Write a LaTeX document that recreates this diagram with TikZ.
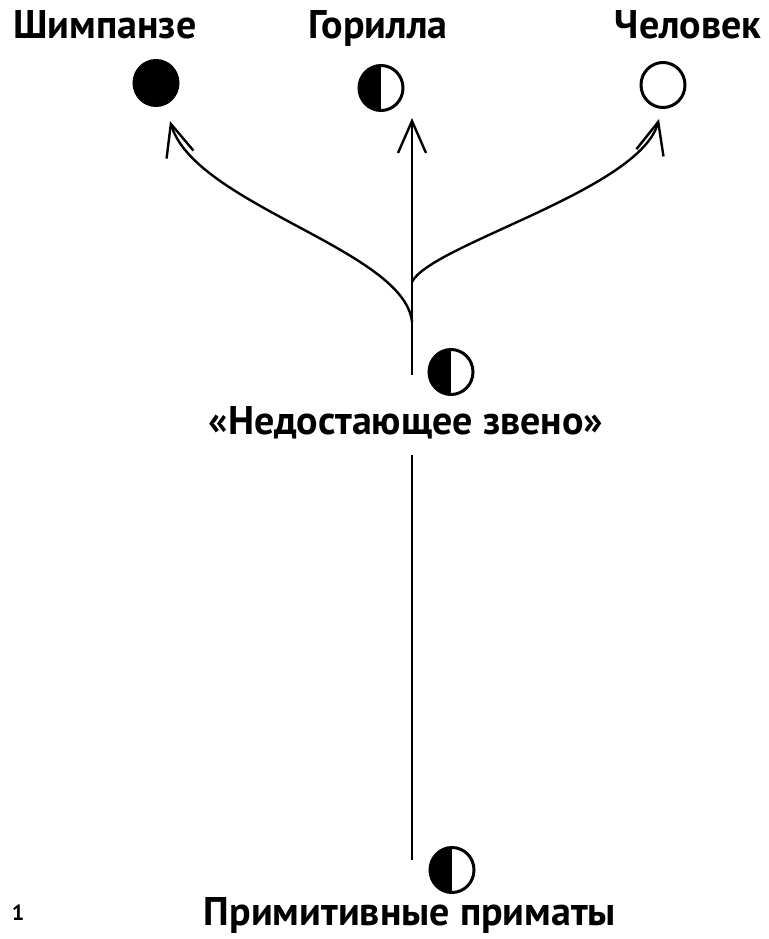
\documentclass[tikz,border=0pt]{standalone}
\usepackage{fontspec}
\setmainfont{PT Sans}
\usetikzlibrary{arrows.meta,shapes.geometric}
\begin{document}
\begin{tikzpicture}[x=1pt,y=-1pt,
  lbl/.style={font=\fontsize{40}{44}\selectfont\bfseries, inner sep=0pt, anchor=base},
  dot/.style={ellipse, draw, line width=3pt, minimum width=44pt, minimum height=45pt, inner sep=0pt},
  fulldot/.style={dot, fill=black},
  halfdot/.style={dot, path picture={\fill[black] (path picture bounding box.south west) rectangle (path picture bounding box.north);}},
  link/.style={line width=2.4pt},
  arr/.style={link, -{Straight Barb[length=32pt,width=28pt,line width=2.4pt]}}
]
\useasboundingbox (0,0) rectangle (768,939);
\node[lbl] (tchimp) at (105,39) {Шимпанзе};
\node[lbl] (tgor) at (378,39) {Горилла};
\node[lbl] (thum) at (688,39) {Человек};
\node[fulldot] (chimp) at (156,83) {};
\node[halfdot] (gor) at (381,88) {};
\node[dot] (hum) at (663,85) {};
\node[halfdot] (mlink) at (451,372) {};
\node[lbl] (tlink) at (406,434) {«Недостающее звено»};
\node[halfdot] (prim) at (452,870) {};
\node[lbl] (tprim) at (410,925) {Примитивные приматы};
\node[font=\fontsize{22}{24}\selectfont\bfseries, inner sep=0pt, anchor=base] (num) at (18,920) {1};
\coordinate (up) at (412,375);
\coordinate (lowtop) at (412,455);
\coordinate (lowbot) at (412,860);
\coordinate (bchimp) at (412,322);
\coordinate (bhum) at (412,282);
\coordinate (tipchimp) at (170,121);
\coordinate (tipgor) at (412,118);
\coordinate (tiphum) at (659,119);
\draw[link] (lowbot) -- (lowtop);
\draw[arr] (up) -- (tipgor);
\draw[arr] (bchimp) .. controls (405,250) and (195,205) .. (tipchimp);
\draw[arr] (bhum) .. controls (430,245) and (640,190) .. (tiphum);
\end{tikzpicture}
\end{document}
